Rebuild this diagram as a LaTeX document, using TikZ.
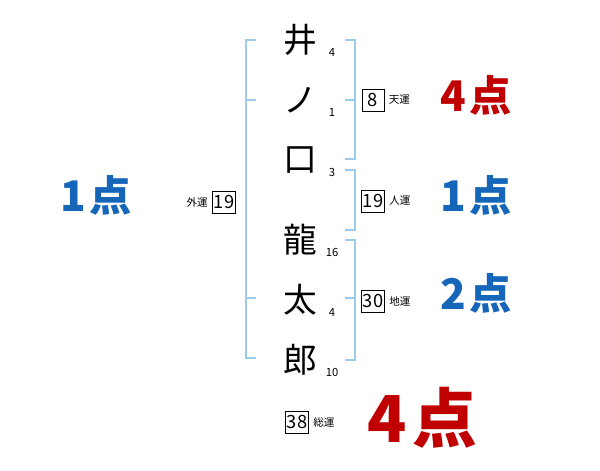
\documentclass[tikz,border=0pt]{standalone}
\usepackage{fontspec}
\setmainfont{Noto Sans CJK JP}
\usepackage{xcolor}
\usetikzlibrary{positioning}
\definecolor{brk}{HTML}{9DCBEA}
\definecolor{ptred}{HTML}{C00000}
\definecolor{ptblue}{HTML}{1565B8}

\begin{document}
\begin{tikzpicture}[
  x=0.025cm, y=-0.025cm,
  kanji/.style={font=\fontsize{24}{24}\selectfont, inner sep=0pt},
  strokes/.style={font=\fontsize{8}{8}\selectfont, inner sep=0pt},
  unbox/.style={draw, thin, minimum width=0.55cm, minimum height=0.55cm, inner sep=1pt, font=\fontsize{13}{13}\selectfont},
  unlabel/.style={font=\fontsize{7.5}{7.5}\selectfont, inner sep=1pt},
  score/.style={font=\fontsize{30}{30}\selectfont\bfseries, inner sep=0pt},
  bracket/.style={draw=brk, line width=1.3pt}
]
  \useasboundingbox (0,0) rectangle (600,470);

  % Name characters
  \node[kanji] (c1) at (300,40) {井};
  \node[kanji] (c2) at (300,100) {ノ};
  \node[kanji] (c3) at (300,160) {口};
  \node[kanji] (c4) at (300,240) {龍};
  \node[kanji] (c5) at (300,300) {太};
  \node[kanji] (c6) at (300,360) {郎};

  % Stroke counts
  \node[strokes] (s1) at (332,52) {4};
  \node[strokes] (s2) at (332,112) {1};
  \node[strokes] (s3) at (332,172) {3};
  \node[strokes] (s4) at (332,252) {16};
  \node[strokes] (s5) at (332,312) {4};
  \node[strokes] (s6) at (332,372) {10};

  % Brackets
  \draw[bracket] (256,40) -- (246,40) -- (246,358) -- (256,358);
  \draw[bracket] (246,100) -- (256,100);
  \draw[bracket] (246,298) -- (256,298);
  \draw[bracket] (345,40) -- (355,40) -- (355,159) -- (345,159);
  \draw[bracket] (345,100) -- (355,100);
  \draw[bracket] (345,170) -- (355,170) -- (355,230) -- (345,230);
  \draw[bracket] (345,240) -- (355,240) -- (355,360) -- (345,360);
  \draw[bracket] (345,298) -- (355,298);

  % Fortune boxes
  \node[unbox] (ten) at (373,100) {8};
  \node[unlabel, right=2pt of ten] (tenl) {天運};
  \node[unbox] (jin) at (373,201) {19};
  \node[unlabel, right=2pt of jin] (jinl) {人運};
  \node[unbox] (chi) at (373,301) {30};
  \node[unlabel, right=2pt of chi] (chil) {地運};
  \node[unbox] (gai) at (224,202) {19};
  \node[unlabel, left=2pt of gai] (gail) {外運};
  \node[unbox] (sou) at (297,422) {38};
  \node[unlabel, right=2pt of sou] (soul) {総運};

  % Scores
  \node[score, text=ptred] (pten) at (476,95) {4\hspace{2pt}点};
  \node[score, text=ptblue] (pjin) at (476,195) {1\hspace{2pt}点};
  \node[score, text=ptblue] (pchi) at (476,293) {2\hspace{2pt}点};
  \node[score, text=ptblue] (pgai) at (96,195) {1\hspace{2pt}点};
  \node[score, text=ptred, font=\fontsize{46}{46}\selectfont\bfseries] (psou) at (422,418) {4\hspace{4pt}点};
\end{tikzpicture}
\end{document}
